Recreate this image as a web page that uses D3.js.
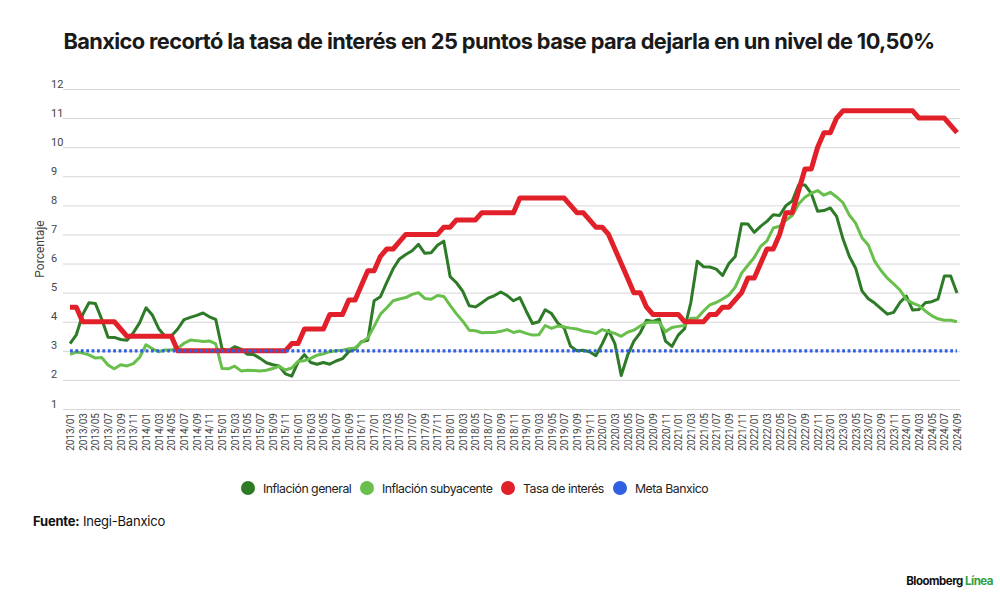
<!DOCTYPE html>
<html>
<head>
<meta charset="utf-8">
<script src="https://cdn.jsdelivr.net/npm/d3@7"></script>
<style>
  html, body { margin: 0; padding: 0; background: #fff; }
  svg { display: block; font-family: Inter, Roboto, "Noto Sans", sans-serif; }
</style>
</head>
<body>
<svg id="chart" width="1000" height="608"></svg>
<script>
// months 2013/01 .. 2024/09
var months = d3.timeMonth.range(new Date(2013, 0, 1), new Date(2024, 9, 1)).map(d3.timeFormat("%Y/%m"));
var tickLabels = months.filter(function(d, i) { return i % 2 == 0; });
var yTicks = [1, 2, 3, 4, 5, 6, 7, 8, 9, 10, 11, 12];

var general = [
  3.25, 3.55, 4.25, 4.65, 4.63, 4.09, 3.47, 3.46, 3.39, 3.36, 3.62, 3.97,
  4.48, 4.23, 3.76, 3.50, 3.51, 3.75, 4.07, 4.15, 4.22, 4.30, 4.17, 4.08,
  3.07, 3.00, 3.14, 3.06, 2.88, 2.87, 2.74, 2.59, 2.52, 2.48, 2.21, 2.13,
  2.61, 2.87, 2.60, 2.54, 2.60, 2.54, 2.65, 2.73, 2.97, 3.06, 3.31, 3.36,
  4.72, 4.86, 5.35, 5.82, 6.16, 6.31, 6.44, 6.66, 6.35, 6.37, 6.63, 6.77,
  5.55, 5.34, 5.04, 4.55, 4.51, 4.65, 4.81, 4.90, 5.02, 4.90, 4.72, 4.83,
  4.37, 3.94, 4.00, 4.41, 4.28, 3.95, 3.78, 3.16, 3.00, 3.02, 2.97, 2.83,
  3.24, 3.70, 3.25, 2.15, 2.84, 3.33, 3.62, 4.05, 4.01, 4.09, 3.33, 3.15,
  3.54, 3.76, 4.67, 6.08, 5.89, 5.88, 5.81, 5.59, 6.00, 6.24, 7.37, 7.36,
  7.07, 7.28, 7.45, 7.68, 7.65, 7.99, 8.15, 8.70, 8.70, 8.41, 7.80, 7.82,
  7.91, 7.62, 6.85, 6.25, 5.84, 5.06, 4.79, 4.64, 4.45, 4.26, 4.32, 4.66,
  4.88, 4.40, 4.42, 4.65, 4.69, 4.78, 5.57, 5.57, 4.99
];
var core = [
  2.88, 2.96, 2.92, 2.86, 2.75, 2.77, 2.51, 2.38, 2.52, 2.48, 2.56, 2.78,
  3.21, 3.07, 2.97, 3.03, 3.04, 3.08, 3.26, 3.37, 3.35, 3.32, 3.34, 3.24,
  2.39, 2.38, 2.47, 2.31, 2.33, 2.32, 2.31, 2.33, 2.39, 2.47, 2.34, 2.41,
  2.64, 2.66, 2.74, 2.85, 2.90, 2.97, 3.00, 3.02, 3.07, 3.10, 3.29, 3.44,
  3.84, 4.26, 4.48, 4.72, 4.78, 4.83, 4.94, 5.00, 4.80, 4.77, 4.90, 4.87,
  4.56, 4.27, 4.02, 3.71, 3.69, 3.62, 3.63, 3.63, 3.67, 3.73, 3.63, 3.68,
  3.60, 3.54, 3.55, 3.87, 3.77, 3.85, 3.82, 3.78, 3.75, 3.68, 3.65, 3.59,
  3.73, 3.66, 3.60, 3.50, 3.64, 3.71, 3.85, 3.97, 3.99, 3.98, 3.66, 3.80,
  3.84, 3.87, 4.12, 4.13, 4.37, 4.58, 4.66, 4.78, 4.92, 5.19, 5.67, 5.94,
  6.21, 6.59, 6.78, 7.22, 7.28, 7.49, 7.65, 8.05, 8.28, 8.42, 8.51, 8.35,
  8.45, 8.29, 8.09, 7.67, 7.39, 6.89, 6.64, 6.08, 5.76, 5.50, 5.30, 5.09,
  4.76, 4.64, 4.55, 4.37, 4.21, 4.10, 4.05, 4.05, 4.00
];
var rate = [
  4.50, 4.50, 4.00, 4.00, 4.00, 4.00, 4.00, 4.00, 3.75, 3.50, 3.50, 3.50,
  3.50, 3.50, 3.50, 3.50, 3.50, 3.00, 3.00, 3.00, 3.00, 3.00, 3.00, 3.00,
  3.00, 3.00, 3.00, 3.00, 3.00, 3.00, 3.00, 3.00, 3.00, 3.00, 3.00, 3.25,
  3.25, 3.75, 3.75, 3.75, 3.75, 4.25, 4.25, 4.25, 4.75, 4.75, 5.25, 5.75,
  5.75, 6.25, 6.50, 6.50, 6.75, 7.00, 7.00, 7.00, 7.00, 7.00, 7.00, 7.25,
  7.25, 7.50, 7.50, 7.50, 7.50, 7.75, 7.75, 7.75, 7.75, 7.75, 7.75, 8.25,
  8.25, 8.25, 8.25, 8.25, 8.25, 8.25, 8.25, 8.00, 7.75, 7.75, 7.50, 7.25,
  7.25, 7.00, 6.50, 6.00, 5.50, 5.00, 5.00, 4.50, 4.25, 4.25, 4.25, 4.25,
  4.25, 4.00, 4.00, 4.00, 4.00, 4.25, 4.25, 4.50, 4.50, 4.75, 5.00, 5.50,
  5.50, 6.00, 6.50, 6.50, 7.00, 7.75, 7.75, 8.50, 9.25, 9.25, 10.00, 10.50,
  10.50, 11.00, 11.25, 11.25, 11.25, 11.25, 11.25, 11.25, 11.25, 11.25, 11.25, 11.25,
  11.25, 11.25, 11.00, 11.00, 11.00, 11.00, 11.00, 10.75, 10.50
];
var meta = months.map(function() { return 3; });

var seriesNames = ["Inflación general", "Inflación subyacente", "Tasa de interés", "Meta Banxico"];
var seriesColors = ["#2d7a27", "#69bf4c", "#e1202a", "#2f5fe3"];

var svg = d3.select("#chart");

var x = d3.scalePoint().domain(months).range([70, 957]);
var y = d3.scaleLinear().domain([1, 12]).range([409, 89]);

// title, squeezed to the reference width
var title = svg.append("text")
  .attr("x", 499)
  .attr("y", 49)
  .attr("text-anchor", "middle")
  .style("font-weight", 700)
  .style("font-size", "22px")
  .style("letter-spacing", "-0.6px")
  .style("fill", "#1a1a1a")
  .text("Banxico recortó la tasa de interés en 25 puntos base para dejarla en un nivel de 10,50%");
var tl = title.node().getComputedTextLength();
title.style("font-size", (22 * 872 / tl).toFixed(2) + "px");

// grid + y labels
var yAxis = svg.append("g")
  .attr("transform", "translate(960,0)")
  .call(d3.axisLeft(y).tickValues(yTicks).tickSize(897).tickFormat(d3.format("d")));
yAxis.select(".domain").remove();
yAxis.selectAll("line").attr("stroke", "#d6d6d6").attr("stroke-width", 1);
yAxis.selectAll("text")
  .attr("x", -909)
  .attr("y", -2)
  .attr("dy", null)
  .style("text-anchor", "start")
  .style("font-size", "11px")
  .style("font-family", "Roboto, sans-serif")
  .style("fill", "#444");

svg.append("text")
  .attr("transform", "translate(44,249) rotate(-90)")
  .attr("text-anchor", "middle")
  .style("font-size", "12px")
  .style("font-family", "Roboto, sans-serif")
  .style("fill", "#444")
  .text("Porcentaje");

// x labels
var xAxis = svg.append("g")
  .attr("transform", "translate(0,413)")
  .call(d3.axisBottom(x).tickValues(tickLabels).tickSize(0));
xAxis.select(".domain").remove();
xAxis.selectAll("text")
  .attr("x", 0)
  .attr("y", 0)
  .attr("dy", "0.35em")
  .attr("transform", "rotate(-90)")
  .style("text-anchor", "end")
  .style("font-size", "10px")
  .style("font-family", "Roboto, sans-serif")
  .style("fill", "#444");

// lines
var line = d3.line()
  .x(function(d, i) { return x(months[i]); })
  .y(function(d) { return y(d); })
  .curve(d3.curveLinear);

var plot = svg.append("g").attr("fill", "none").attr("stroke-linejoin", "round");
plot.append("path").datum(general).attr("d", line)
  .attr("stroke", seriesColors[0]).attr("stroke-width", 3);
plot.append("path").datum(core).attr("d", line)
  .attr("stroke", seriesColors[1]).attr("stroke-width", 3);
plot.append("path").datum(rate).attr("d", line)
  .attr("stroke", seriesColors[2]).attr("stroke-width", 5);
plot.append("path").datum(meta).attr("d", line)
  .attr("stroke", seriesColors[3]).attr("stroke-width", 3.2)
  .attr("stroke-dasharray", "2.8,2.6");

// legend
var legendX = [248, 367, 508, 620];
var legend = svg.append("g").selectAll("g")
  .data(seriesNames)
  .enter().append("g")
  .attr("transform", function(d, i) { return "translate(" + legendX[i] + ",488)"; });
legend.append("circle")
  .attr("r", 7)
  .attr("fill", function(d, i) { return seriesColors[i]; });
var legendText = legend.append("text")
  .attr("x", 15)
  .attr("y", 4.5)
  .style("font-size", "13px")
  .style("letter-spacing", "-0.5px")
  .style("fill", "#222")
  .text(function(d) { return d; });
// fit to the width of the longest label in the reference
var lw = legendText.filter(function(d, i) { return i == 1; }).node().getComputedTextLength();
legendText.style("font-size", Math.min(13, 13 * 111 / lw).toFixed(2) + "px");

// footer
var src = svg.append("text")
  .attr("x", 33)
  .attr("y", 526)
  .style("font-size", "13px")
  .style("letter-spacing", "-0.2px")
  .style("fill", "#111");
src.append("tspan").style("font-weight", 700).text("Fuente:");
src.append("tspan").text(" Inegi-Banxico");

var brand = svg.append("text")
  .attr("x", 993)
  .attr("y", 585)
  .attr("text-anchor", "end")
  .style("font-size", "11.5px")
  .style("font-weight", 700)
  .style("letter-spacing", "-0.5px")
  .style("fill", "#111");
brand.append("tspan").text("Bloomberg ");
brand.append("tspan").style("fill", "#2ea043").text("Línea");
</script>
</body>
</html>
